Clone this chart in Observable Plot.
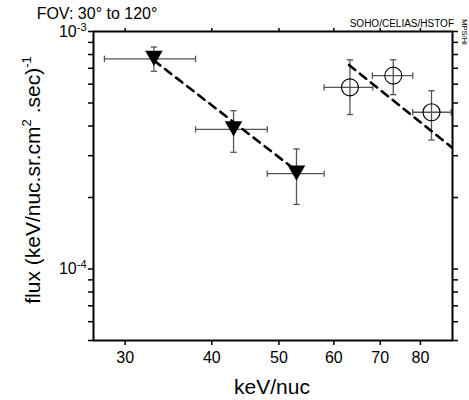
<!DOCTYPE html>
<html>
<head>
<meta charset="utf-8">
<script src="https://cdn.jsdelivr.net/npm/d3@7"></script>
<script src="https://cdn.jsdelivr.net/npm/@observablehq/plot@0.6"></script>
<style>
  html, body { margin: 0; padding: 0; background: #fff; }
  svg { display: block; }
</style>
</head>
<body>
<div id="chart"></div>
<script>
// Filled triangles (series 1)
const triEnergy = [33, 43, 53];
const triFlux   = [7.67e-4, 3.87e-4, 2.52e-4];
const triFluxLo = [6.8e-4, 3.1e-4, 1.87e-4];
const triFluxHi = [8.6e-4, 4.64e-4, 3.2e-4];
const triELo    = [28.0, 37.9, 48.1];
const triEHi    = [37.9, 48.1, 58.1];

// Open circles (series 2)
const circEnergy = [63.3, 73.1, 83.0];
const circFlux   = [5.82e-4, 6.52e-4, 4.57e-4];
const circFluxLo = [4.47e-4, 5.42e-4, 3.49e-4];
const circFluxHi = [7.6e-4, 7.6e-4, 5.63e-4];
const circELo    = [58.1, 68.2, 78.0];
const circEHi    = [68.3, 78.0, 88.6];

// Dashed power-law fits
const fit1Energy = [33, 53];
const fit1Flux   = [7.55e-4, 2.59e-4];
const fit2Energy = [63.1, 88.8];
const fit2Flux   = [7.23e-4, 3.25e-4];

// Ticks
const xTicks = [30, 40, 50, 60, 70, 80];
const yTicks = [1e-3, 9e-4, 8e-4, 7e-4, 6e-4, 5e-4, 4e-4, 3e-4, 2e-4, 1e-4, 9e-5, 8e-5, 7e-5, 6e-5, 5e-5];
const yTickLabels = {"1e-3": "10^-3", "1e-4": "10^-4"};

const titleText = "FOV: 30\u00B0 to 120\u00B0";
const sourceText = "SOHO/CELIAS/HSTOF";
const sideText = "MPS/Hi";
const xLabel = "keV/nuc";

const tri = triEnergy.map((e, i) => ({x: e, y: triFlux[i], ylo: triFluxLo[i], yhi: triFluxHi[i], xlo: triELo[i], xhi: triEHi[i]}));
const circ = circEnergy.map((e, i) => ({x: e, y: circFlux[i], ylo: circFluxLo[i], yhi: circFluxHi[i], xlo: circELo[i], xhi: circEHi[i]}));
const all = tri.concat(circ);
const fits = fit1Energy.map((e, i) => ({x: e, y: fit1Flux[i], s: "a"}))
  .concat(fit2Energy.map((e, i) => ({x: e, y: fit2Flux[i], s: "b"})));

const hcap = {draw(ctx, size) { const r = Math.sqrt(size / Math.PI); ctx.moveTo(-r, 0); ctx.lineTo(r, 0); }};
const vcap = {draw(ctx, size) { const r = Math.sqrt(size / Math.PI); ctx.moveTo(0, -r); ctx.lineTo(0, r); }};

const fmtY = d => {
  const k = d.toExponential(0).replace("+", "");
  return yTickLabels[k] || "";
};

const errColor = "#555";

const chart = Plot.plot({
  width: 469,
  height: 400,
  marginTop: 31,
  marginBottom: 60,
  marginLeft: 93,
  marginRight: 17,
  style: {fontFamily: "'Liberation Sans', Arial, sans-serif", background: "#fff", color: "#000"},
  x: {type: "log", domain: [27, 89]},
  y: {type: "log", domain: [5e-5, 1e-3]},
  marks: [
    Plot.axisX({anchor: "bottom", ticks: xTicks, tickSize: 5, tickPadding: 6, fontSize: 16, tickFormat: d => String(d), label: null, strokeWidth: 1.5}),
    Plot.axisX({anchor: "top", ticks: xTicks, tickSize: 4, tickFormat: () => "", label: null, strokeWidth: 1.5}),
    Plot.axisY({anchor: "left", ticks: yTicks, tickSize: 5, tickPadding: 2, fontSize: 16, tickFormat: fmtY, label: null, strokeWidth: 1.5}),
    Plot.axisY({anchor: "right", ticks: yTicks, tickSize: 5, tickFormat: () => "", label: null, strokeWidth: 1.5}),
    Plot.ruleX(all, {x: "x", y1: "ylo", y2: "yhi", stroke: errColor, strokeWidth: 1.3}),
    Plot.ruleY(all, {y: "y", x1: "xlo", x2: "xhi", stroke: errColor, strokeWidth: 1.3}),
    Plot.dot(all, {x: "x", y: "ylo", symbol: hcap, r: 3.2, stroke: errColor, fill: "none", strokeWidth: 1.3}),
    Plot.dot(all, {x: "x", y: "yhi", symbol: hcap, r: 3.2, stroke: errColor, fill: "none", strokeWidth: 1.3}),
    Plot.dot(all, {x: "xlo", y: "y", symbol: vcap, r: 3.2, stroke: errColor, fill: "none", strokeWidth: 1.3}),
    Plot.dot(all, {x: "xhi", y: "y", symbol: vcap, r: 3.2, stroke: errColor, fill: "none", strokeWidth: 1.3}),
    Plot.line(fits, {x: "x", y: "y", z: "s", stroke: "#000", strokeWidth: 2.6, strokeDasharray: "8,6", clip: true}),
    Plot.dot(tri, {x: "x", y: "y", symbol: "triangle", rotate: 180, r: 6.5, fill: "#000", stroke: "none", dy: -3}),
    Plot.dot(circ, {x: "x", y: "y", r: 8.5, stroke: "#000", fill: "none", strokeWidth: 1.1}),
    Plot.frame({stroke: "#000", strokeWidth: 2})
  ]
});

document.getElementById("chart").appendChild(chart);

const svg = d3.select(chart);
const ff = "'Liberation Sans', Arial, sans-serif";

// Turn "10^-3" tick labels into base + superscript
svg.selectAll("text").each(function() {
  const t = d3.select(this);
  if (t.selectAll("tspan").size() > 0) return;
  const m = /^10\^(-\d)$/.exec(t.text());
  if (!m) return;
  t.text("");
  t.append("tspan").text("10");
  t.append("tspan").attr("dy", "-0.55em").attr("font-size", 11).text(m[1]);
  t.attr("dy", null);
});

svg.append("text").attr("x", 97).attr("y", 19).attr("font-size", 16).attr("font-family", ff).attr("fill", "#000").text(titleText);
svg.append("text").attr("x", 454).attr("y", 27).attr("text-anchor", "end").attr("font-size", 10).attr("font-family", ff).attr("fill", "#000").text(sourceText);
svg.append("text").attr("transform", "translate(462,32) rotate(90)").attr("font-size", 7.5).attr("font-family", ff).attr("fill", "#000").text(sideText);
svg.append("text").attr("x", 272).attr("y", 394).attr("text-anchor", "middle").attr("font-size", 21).attr("font-family", ff).attr("fill", "#000").text(xLabel);

const yl = svg.append("text").attr("transform", "translate(40,180) rotate(-90)").attr("text-anchor", "middle")
  .attr("font-size", 21).attr("font-family", ff).attr("fill", "#000");
yl.append("tspan").text("flux (keV/nuc.sr.cm");
yl.append("tspan").attr("dy", -9).attr("font-size", 13).text("2");
yl.append("tspan").attr("dy", 9).text(" .sec)");
yl.append("tspan").attr("dy", -9).attr("font-size", 13).text("-1");
</script>
</body>
</html>
